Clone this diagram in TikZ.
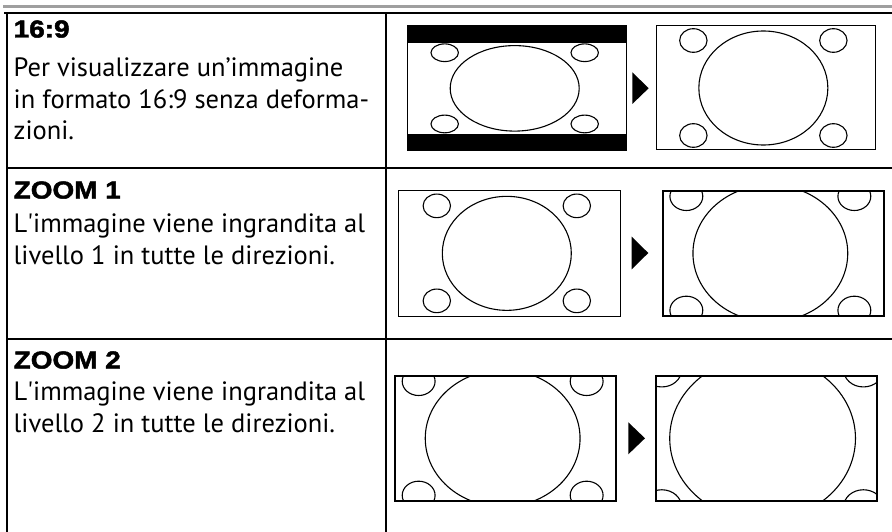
\documentclass[tikz,border=0pt]{standalone}
\usepackage{fontspec}
\setmainfont{PT Sans}
\newfontfamily\titlefont{Liberation Sans}[FakeBold=2,FakeStretch=1.14]
\newcommand{\drawscreen}[7]{%
  \begin{scope}
    \clip (#1,#2) rectangle (#3,#4);
    \begin{scope}[shift={({(#1+#3)/2-2.5*#5},{(#2+#4)/2})},xscale=#5,yscale=#6]
      \draw[pic line] (0,0) ellipse (64.5 and 57);
      \draw[pic line] (-70,-47.5) ellipse (13.7 and 11.8);
      \draw[pic line] (70,-47.5) ellipse (13.7 and 11.8);
      \draw[pic line] (-70,47.5) ellipse (13.7 and 11.8);
      \draw[pic line] (70,47.5) ellipse (13.7 and 11.8);
    \end{scope}
  \end{scope}
  \draw[line width=#7] (#1,#2) rectangle (#3,#4);
}
\begin{document}
\begin{tikzpicture}[x=1pt,y=-1pt,
  pic line/.style={line width=1.1pt},
  rule/.style={line width=2pt},
  titletext/.style={anchor=base west,inner sep=0pt,font=\titlefont\bfseries\fontsize{24.5}{26}\selectfont},
  bodytext/.style={anchor=base west,inner sep=0pt,font=\fontsize{26.5}{30}\selectfont},
  tri/.style={fill=black}]
\useasboundingbox (0,0) rectangle (892,532);
\fill[white] (0,0) rectangle (892,532);
% table rules
\draw[line width=2.2pt,gray!75] (3,6.5) -- (892,6.5);
\draw[rule] (4,13.5) -- (892,13.5);
\draw[rule] (7,13.5) -- (7,532);
\draw[rule] (385.5,13.5) -- (385.5,532);
\draw[rule] (7,168) -- (892,168);
\draw[rule] (7,339) -- (892,339);
% row 1 text
\node[titletext] (t1) at (13.5,37.5) {16:9};
\node[bodytext] (b1a) at (13.5,77) {Per visualizzare un’immagine};
\node[bodytext] (b1b) at (13.5,108.5) {in formato 16:9 senza deforma-};
\node[bodytext] (b1c) at (13.5,140) {zioni.};
% row 2 text
\node[titletext] (t2) at (13.5,198.5) {ZOOM 1};
\node[bodytext] (b2a) at (13.5,232.5) {L\textquotesingle immagine viene ingrandita al};
\node[bodytext] (b2b) at (13.5,264) {livello 1 in tutte le direzioni.};
% row 3 text
\node[titletext] (t3) at (13.5,368.5) {ZOOM 2};
\node[bodytext] (b3a) at (13.5,400.5) {L\textquotesingle immagine viene ingrandita al};
\node[bodytext] (b3b) at (13.5,432) {livello 2 in tutte le direzioni.};
% row 1 screens
\drawscreen{407.7}{26}{626.7}{150.7}{1}{0.75}{1pt}
\fill (407.7,26) rectangle (626.7,42.7);
\fill (407.7,134) rectangle (626.7,150.7);
\fill[tri] (632.3,72.3) -- (648.7,88.2) -- (632.3,104) -- cycle;
\drawscreen{656.7}{26}{875}{150}{1}{1}{1pt}
% row 2 screens
\drawscreen{398.3}{190.7}{620.3}{316}{1}{1}{1pt}
\fill[tri] (631.7,236.7) -- (648.3,253) -- (631.7,269.3) -- cycle;
\drawscreen{662.7}{190.7}{884}{316}{1.2}{1.2}{1.7pt}
% row 3 screens
\drawscreen{395}{375.7}{616.3}{501}{1.2}{1.2}{1.7pt}
\fill[tri] (628.3,422.3) -- (645,438.3) -- (628.3,454.3) -- cycle;
\drawscreen{655.7}{375.7}{876.7}{501}{1.44}{1.44}{1.7pt}
\end{tikzpicture}
\end{document}
